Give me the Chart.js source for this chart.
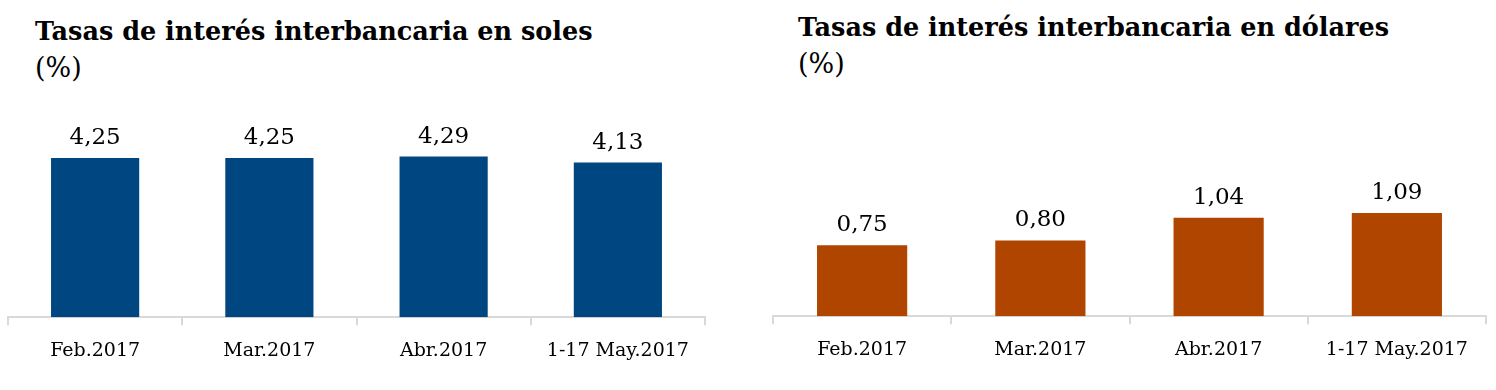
<!DOCTYPE html>
<html>
<head>
<meta charset="utf-8">
<script src="https://cdn.jsdelivr.net/npm/chart.js@4/dist/chart.umd.min.js"></script>
<style>
  html, body { margin: 0; padding: 0; background: #fff; }
  body { width: 1496px; height: 390px; position: relative; overflow: hidden; }
  .title { position: absolute; font-family: "DejaVu Serif", serif; font-weight: bold; font-size: 25.5px; line-height: 30px; color: #000; white-space: nowrap; }
  .unit { position: absolute; font-family: "DejaVu Serif", serif; font-size: 27px; line-height: 32px; color: #000; }
  .box { position: absolute; top: 0; height: 390px; }
</style>
</head>
<body>
<div class="title" id="t1" style="left:35px; top:16px;">Tasas de interés interbancaria en soles</div>
<div class="unit" style="left:35px; top:52px;">(%)</div>
<div class="title" id="t2" style="left:798px; top:12px;">Tasas de interés interbancaria en dólares</div>
<div class="unit" style="left:798px; top:48px;">(%)</div>
<div class="box" style="left:0; width:740px;"><canvas id="c1"></canvas></div>
<div class="box" style="left:740px; width:756px;"><canvas id="c2"></canvas></div>
<script>
const categories = ["Feb.2017", "Mar.2017", "Abr.2017", "1-17 May.2017"];
const solesValues = [4.25, 4.25, 4.29, 4.13];
const dolaresValues = [0.75, 0.80, 1.04, 1.09];

const valueLabels = {
  id: 'valueLabels',
  afterDatasetsDraw(chart) {
    const ctx = chart.ctx;
    const meta = chart.getDatasetMeta(0);
    const data = chart.data.datasets[0].data;
    ctx.save();
    ctx.font = '23px "DejaVu Serif", serif';
    ctx.fillStyle = '#000';
    ctx.textAlign = 'center';
    ctx.textBaseline = 'alphabetic';
    meta.data.forEach((bar, i) => {
      ctx.fillText(data[i].toFixed(2).replace('.', ','), bar.x, bar.y - 14);
    });
    ctx.restore();
  }
};

function makeChart(id, values, color, yMax, pad) {
  return new Chart(document.getElementById(id), {
    type: 'bar',
    data: {
      labels: categories,
      datasets: [{
        data: values,
        backgroundColor: color,
        borderWidth: 0,
        categoryPercentage: 1.0,
        barPercentage: 0.506
      }]
    },
    options: {
      responsive: true,
      maintainAspectRatio: false,
      animation: false,
      devicePixelRatio: 1,
      layout: { padding: pad },
      plugins: { legend: { display: false }, tooltip: { enabled: false } },
      scales: {
        x: {
          offset: true,
          grid: { display: true, offset: true, drawOnChartArea: false, drawTicks: true, tickLength: 8, color: '#d9d9d9', lineWidth: 2 },
          border: { display: true, color: '#d9d9d9', width: 2 },
          ticks: { color: '#000', padding: 14, font: { family: '"DejaVu Serif", serif', size: 19 }, maxRotation: 0, autoSkip: false }
        },
        y: {
          display: false,
          min: 0,
          max: yMax
        }
      }
    },
    plugins: [valueLabels]
  });
}

makeChart('c1', solesValues, '#004680', 5.8, { left: 8, right: 35, top: 100, bottom: 14 });
makeChart('c2', dolaresValues, '#B04500', 2.284, { left: 33, right: 10, top: 100, bottom: 15 });
</script>
</body>
</html>
